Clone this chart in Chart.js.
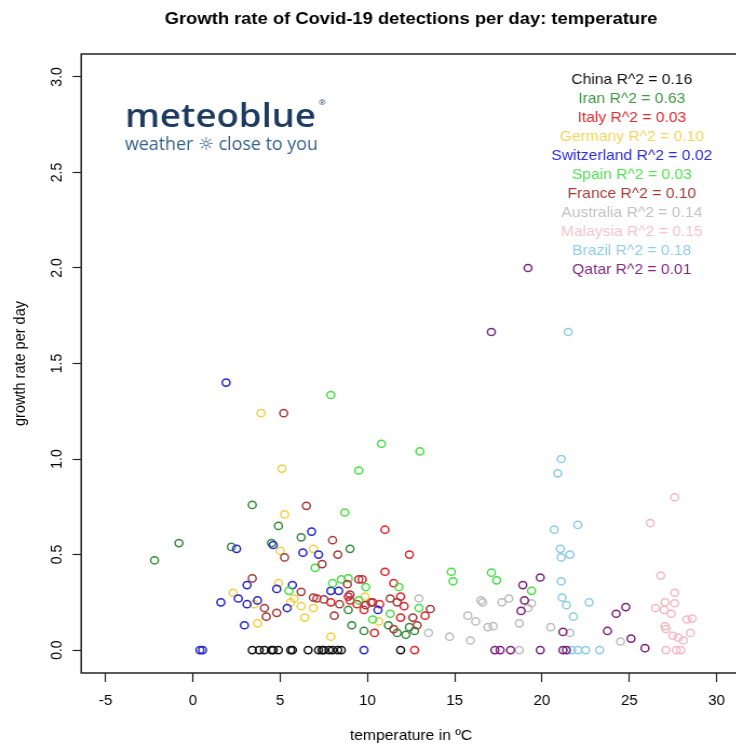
<!DOCTYPE html>
<html>
<head>
<meta charset="utf-8">
<title>Growth rate of Covid-19 detections per day: temperature</title>
<script src="https://cdn.jsdelivr.net/npm/chart.js@4.4.0/dist/chart.umd.min.js"></script>
<style>
  html, body { margin: 0; padding: 0; background: #fff; overflow: hidden; }
  #chart { display: block; }
</style>
</head>
<body>
<!-- the drawing is stretched a little sideways, as in the exported plot -->
<canvas id="chart" width="688" height="745" style="width:743px;height:745px"></canvas>
<script>
var countries = ['China', 'Iran', 'Italy', 'Germany', 'Switzerland', 'Spain', 'France', 'Australia', 'Malaysia', 'Brazil', 'Qatar'];
var rsquared = [0.16, 0.63, 0.03, 0.10, 0.02, 0.03, 0.10, 0.14, 0.15, 0.18, 0.01];
var colours = ['#111111', '#358a3a', '#e3222a', '#f2d043', '#2626cf', '#45e045', '#a33c3a', '#bdbdbd', '#f5b9c5', '#8ccbe8', '#7a2478'];
var textColours = ['#111111', '#3f9645', '#e8262c', '#f5d65a', '#2b2bd6', '#52e452', '#a33c3a', '#c2c2c2', '#f7c3cd', '#91cde8', '#7f2a7d'];

// temperature (°C) and growth rate per day, one pair of lists per country
var chinaTemp = [3.4, 3.8, 4.1, 4.5, 4.6, 4.9, 5.6, 5.7, 6.6, 7.2, 7.4, 7.5, 7.8, 8.0, 8.3, 8.5, 11.9];
var chinaRate = [0, 0, 0, 0, 0, 0, 0, 0, 0, 0, 0, 0, 0, 0, 0, 0, 0];

var iranTemp = [-2.2, -0.8, 2.2, 3.4, 4.5, 4.9, 6.2, 9.0, 8.9, 9.1, 9.8, 11.2, 11.7, 12.2, 12.4, 12.7];
var iranRate = [0.47, 0.56, 0.54, 0.76, 0.56, 0.65, 0.59, 0.53, 0.21, 0.13, 0.10, 0.13, 0.09, 0.08, 0.12, 0.10];

var italyTemp = [7.1, 7.9, 8.9, 9.0, 9.4, 9.7, 9.8, 10.2, 10.4, 10.7, 11.0, 11.0, 11.5, 11.9, 11.9, 12.1, 12.4, 12.7, 13.3];
var italyRate = [0.27, 0.25, 0.28, 0.26, 0.24, 0.37, 0.21, 0.25, 0.09, 0.24, 0.63, 0.41, 0.35, 0.28, 0.17, 0.23, 0.50, 0.0, 0.18];

var germanyTemp = [2.3, 3.5, 3.7, 3.9, 4.9, 5.0, 5.1, 5.25, 5.6, 5.8, 6.2, 6.4, 6.9, 6.9, 7.9, 9.85, 10.65];
var germanyRate = [0.30, 0.24, 0.14, 1.24, 0.35, 0.52, 0.95, 0.71, 0.25, 0.27, 0.23, 0.17, 0.53, 0.22, 0.07, 0.28, 0.15];

var swissTemp = [0.4, 0.55, 1.6, 1.9, 2.5, 2.6, 2.95, 3.1, 3.1, 3.7, 4.6, 4.8, 5.4, 5.7, 6.3, 6.8, 7.2, 7.9, 8.35, 9.8, 10.6];
var swissRate = [0, 0, 0.25, 1.40, 0.53, 0.27, 0.13, 0.34, 0.24, 0.26, 0.55, 0.32, 0.22, 0.34, 0.51, 0.62, 0.50, 0.31, 0.31, 0, 0.21];

var spainTemp = [5.5, 7.0, 7.9, 8.0, 8.5, 8.7, 8.9, 9.5, 9.5, 9.9, 10.3, 10.8, 11.3, 11.8, 12.95, 13.0, 14.8, 14.9, 17.1, 17.4, 19.4];
var spainRate = [0.31, 0.43, 1.335, 0.35, 0.37, 0.72, 0.375, 0.94, 0.26, 0.33, 0.16, 1.08, 0.19, 0.33, 0.22, 1.04, 0.41, 0.36, 0.405, 0.365, 0.31];

var franceTemp = [3.4, 4.1, 4.2, 4.8, 5.2, 5.25, 6.2, 6.5, 6.9, 7.4, 7.5, 8.0, 8.1, 8.3, 8.4, 8.85, 9.0, 9.5, 9.9, 10.3, 11.3, 11.5, 11.7, 12.6, 12.85, 13.6];
var franceRate = [0.375, 0.22, 0.175, 0.195, 1.24, 0.485, 0.305, 0.755, 0.275, 0.45, 0.265, 0.575, 0.18, 0.50, 0.24, 0.345, 0.29, 0.37, 0.235, 0.25, 0.27, 0.11, 0.25, 0.17, 0.13, 0.215];

var ausTemp = [12.95, 13.5, 14.7, 15.75, 15.9, 16.2, 16.5, 16.6, 16.9, 17.2, 17.7, 18.1, 18.7, 18.7, 19.2, 19.4, 20.5, 21.6, 24.5];
var ausRate = [0.27, 0.09, 0.07, 0.18, 0.05, 0.15, 0.26, 0.25, 0.12, 0.125, 0.25, 0.27, 0.14, 0.0, 0.22, 0.245, 0.12, 0.09, 0.045];

var malaysiaTemp = [26.2, 26.5, 26.8, 27.0, 27.05, 27.05, 27.1, 27.1, 27.4, 27.5, 27.6, 27.6, 27.6, 27.7, 27.8, 27.95, 28.1, 28.3, 28.5, 28.6];
var malaysiaRate = [0.665, 0.22, 0.39, 0.21, 0.25, 0.125, 0.11, 0.0, 0.19, 0.075, 0.80, 0.30, 0.245, 0.0, 0.065, 0.0, 0.05, 0.16, 0.09, 0.165];

var brazilTemp = [20.7, 20.9, 21.05, 21.1, 21.1, 21.1, 21.15, 21.4, 21.5, 21.6, 21.7, 21.8, 22.05, 22.05, 22.5, 22.7, 23.3];
var brazilRate = [0.63, 0.925, 0.53, 1.0, 0.485, 0.36, 0.275, 0.235, 1.665, 0.50, 0.0, 0.175, 0.655, 0.0, 0.0, 0.25, 0.0];

var qatarTemp = [17.1, 17.3, 17.6, 18.2, 18.8, 18.9, 19.0, 19.2, 19.9, 19.9, 21.2, 21.2, 21.4, 23.75, 24.25, 24.8, 25.1, 25.9];
var qatarRate = [1.665, 0, 0, 0, 0.205, 0.34, 0.26, 2.0, 0.38, 0, 0.095, 0, 0, 0.10, 0.19, 0.225, 0.06, 0.01];

var xTicks = [-5, 0, 5, 10, 15, 20, 25, 30];
var yTicks = [0, 0.5, 1, 1.5, 2, 2.5, 3];

var allTemp = [chinaTemp, iranTemp, italyTemp, germanyTemp, swissTemp, spainTemp, franceTemp, ausTemp, malaysiaTemp, brazilTemp, qatarTemp];
var allRate = [chinaRate, iranRate, italyRate, germanyRate, swissRate, spainRate, franceRate, ausRate, malaysiaRate, brazilRate, qatarRate];

var FONT = "'Liberation Sans', Arial, Helvetica, sans-serif";
var TITLE = 'Growth rate of Covid-19 detections per day: temperature';

var datasets = [];
for (var i = 0; i < countries.length; i++) {
    var pts = [];
    for (var j = 0; j < allTemp[i].length; j++) {
        pts.push({ x: allTemp[i][j], y: allRate[i][j] });
    }
    datasets.push({
        label: countries[i],
        data: pts,
        borderColor: colours[i],
        backgroundColor: 'rgba(0,0,0,0)',
        pointRadius: 3.6,
        pointBorderWidth: 1.5,
        order: countries.length - i // later countries drawn on top
    });
}

// main title, box round the plot, rotated y labels, the R^2 list and the logo
var decorations = {
    id: 'decorations',
    afterDraw: function (chart) {
        var ctx = chart.ctx;
        var area = chart.chartArea;
        var yScale = chart.scales.y;

        ctx.save();
        ctx.fillStyle = '#000';
        ctx.textAlign = 'center';
        ctx.textBaseline = 'middle';
        ctx.font = 'bold 17px ' + FONT;
        ctx.fillText(TITLE, (area.left + area.right) / 2, 19);

        ctx.strokeStyle = '#222';
        ctx.lineWidth = 1.5;
        ctx.strokeRect(area.left, area.top, area.right - area.left, area.bottom - area.top);

        // y tick labels, read bottom to top
        ctx.font = '14px ' + FONT;
        yTicks.forEach(function (v) {
            var py = yScale.getPixelForValue(v);
            ctx.save();
            ctx.translate(52.8, py);
            ctx.rotate(-Math.PI / 2);
            ctx.fillText(v.toFixed(1), 0, 0);
            ctx.restore();
        });

        // coefficient list
        ctx.font = '14.5px ' + FONT;
        for (var i = 0; i < countries.length; i++) {
            ctx.fillStyle = textColours[i];
            ctx.fillText(countries[i] + ' R^2 = ' + rsquared[i].toFixed(2), 585, 80 + i * 19);
        }

        // logo
        ctx.textAlign = 'left';
        ctx.textBaseline = 'alphabetic';
        ctx.fillStyle = '#1c3b5e';
        ctx.font = "600 33px 'Open Sans', sans-serif";
        var w = ctx.measureText('meteoblue').width;
        ctx.save();
        ctx.translate(115.7, 127);
        ctx.scale(176.9 / w, 1);
        ctx.fillText('meteoblue', 0, 0);
        ctx.restore();
        ctx.font = "8px 'Open Sans', sans-serif";
        ctx.fillText('®', 295, 105);
        ctx.fillStyle = '#335f8c';
        ctx.font = "18px 'Open Sans', 'DejaVu Sans', sans-serif";
        var w2 = ctx.measureText('weather \u263C close to you').width;
        ctx.save();
        ctx.translate(115.7, 150);
        ctx.scale(178.7 / w2, 1);
        ctx.fillText('weather \u263C close to you', 0, 0);
        ctx.restore();
        ctx.restore();
    }
};

new Chart(document.getElementById('chart'), {
    type: 'scatter',
    data: { datasets: datasets },
    options: {
        responsive: false,
        animation: false,
        events: [],
        layout: { autoPadding: false, padding: { left: 0, right: 1.9, top: 54, bottom: 0 } },
        plugins: {
            legend: { display: false },
            tooltip: { enabled: false },
            title: { display: false }
        },
        scales: {
            x: {
                type: 'linear',
                min: -6.4,
                max: 31.4,
                afterBuildTicks: function (scale) {
                    scale.ticks = xTicks.map(function (v) { return { value: v }; });
                },
                afterFit: function (scale) { scale.height = 72; },
                border: { display: false },
                grid: { drawOnChartArea: false, drawTicks: true, tickLength: 9, tickWidth: 1.2, tickColor: '#222' },
                ticks: { color: '#000', font: { family: FONT, size: 14 }, padding: 11, maxRotation: 0 },
                title: {
                    display: true,
                    text: 'temperature in ºC',
                    color: '#000',
                    font: { family: FONT, size: 14.5 },
                    padding: { top: 0, bottom: 0 }
                }
            },
            y: {
                type: 'linear',
                min: -0.12,
                max: 3.12,
                afterBuildTicks: function (scale) {
                    scale.ticks = yTicks.map(function (v) { return { value: v }; });
                },
                afterFit: function (scale) { scale.width = 75.2; },
                border: { display: false },
                grid: { drawOnChartArea: false, drawTicks: true, tickLength: 8, tickWidth: 1.2, tickColor: '#222' },
                ticks: { display: false },
                title: {
                    display: true,
                    text: 'growth rate per day',
                    color: '#000',
                    font: { family: FONT, size: 14.5 },
                    padding: { top: 9.8, bottom: 0 }
                }
            }
        }
    },
    plugins: [decorations]
});
</script>
</body>
</html>
